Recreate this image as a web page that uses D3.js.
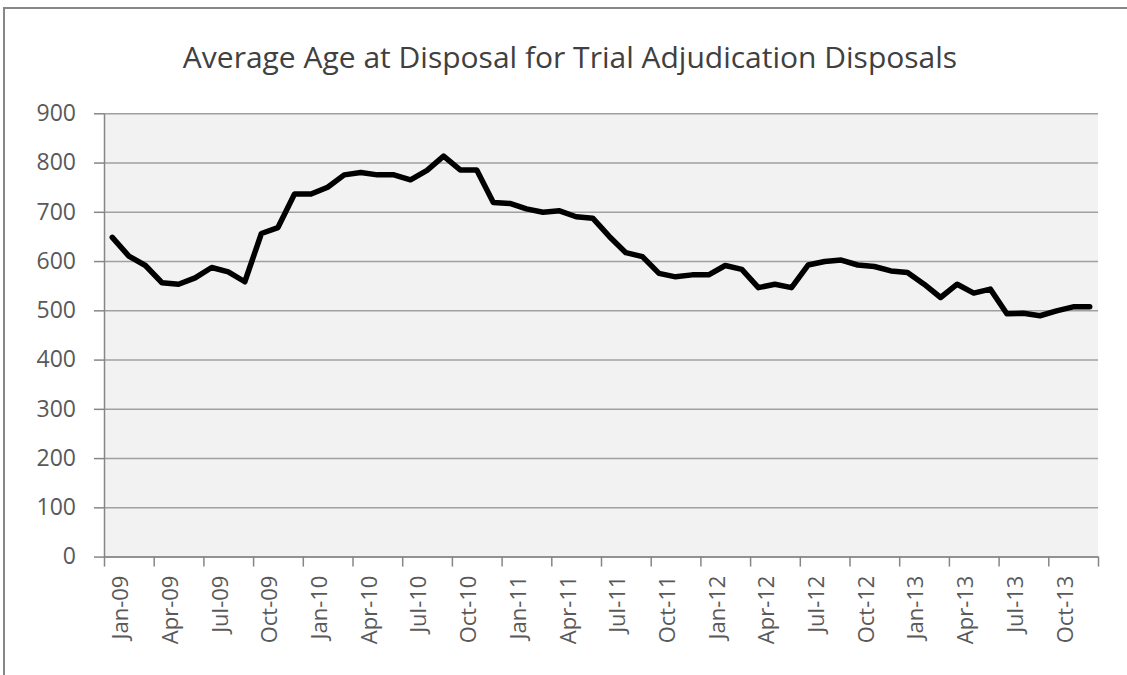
<!DOCTYPE html>
<html>
<head>
<meta charset="utf-8">
<script src="https://cdn.jsdelivr.net/npm/d3@7"></script>
<style>
  body { margin: 0; background: #fff; }
  svg { display: block; font-family: "Open Sans", sans-serif; }
</style>
</head>
<body>
<svg id="chart" width="1127" height="675"></svg>
<script>
// month labels, Jan-09 .. Dec-13
const monthNames = ['Jan', 'Feb', 'Mar', 'Apr', 'May', 'Jun', 'Jul', 'Aug', 'Sep', 'Oct', 'Nov', 'Dec']
const years = ['09', '10', '11', '12', '13']
const months = years.flatMap(y => monthNames.map(m => m + '-' + y))

// average age at disposal (days)
const avgAge = [
  648, 610, 591, 556, 553, 566, 587, 578, 558, 656, 668, 736,
  736, 750, 775, 780, 775, 775, 765, 784, 813, 785, 785, 719,
  717, 706, 699, 702, 690, 687, 650, 617, 609, 575, 568, 572,
  572, 591, 583, 546, 553, 546, 592, 599, 602, 592, 589, 580,
  577, 553, 526, 553, 535, 543, 493, 494, 489, 499, 507, 507
]

const yTicks = [0, 100, 200, 300, 400, 500, 600, 700, 800, 900]
const title = 'Average Age at Disposal for Trial Adjudication Disposals'

const plot = {left: 104, right: 1098, top: 113.3, bottom: 556.6}

const svg = d3.select('#chart')

// outer chart frame
svg.append('rect')
    .attr('x', 4)
    .attr('y', 8)
    .attr('width', 1140)
    .attr('height', 700)
    .attr('fill', '#fff')
    .attr('stroke', '#878787')
    .attr('stroke-width', 2)

svg.append('text')
    .attr('x', 570)
    .attr('y', 68)
    .attr('text-anchor', 'middle')
    .attr('fill', '#404040')
    .style('font-size', '30px')
    .text(title)

const x = d3.scaleBand()
    .domain(months)
    .range([plot.left, plot.right])
    .padding(0)

// index scale so the tick marks can sit on the month edges
const xi = d3.scaleLinear()
    .domain([0, months.length])
    .range([plot.left, plot.right])

const y = d3.scaleLinear()
    .domain([0, 900])
    .range([plot.bottom, plot.top])

svg.append('rect')
    .attr('x', plot.left)
    .attr('y', plot.top)
    .attr('width', plot.right - plot.left)
    .attr('height', plot.bottom - plot.top)
    .attr('fill', '#f2f2f2')

// gridlines
svg.append('g')
    .attr('transform', 'translate(' + plot.left + ',0)')
    .call(d3.axisLeft(y).tickValues(yTicks).tickSize(-(plot.right - plot.left)).tickFormat(''))
    .call(g => g.select('.domain').remove())
    .call(g => g.selectAll('line').attr('stroke', '#a0a0a0').attr('stroke-width', 1.5))

// y axis
svg.append('g')
    .attr('transform', 'translate(' + plot.left + ',0)')
    .call(d3.axisLeft(y).tickValues(yTicks).tickSize(10).tickSizeOuter(0).tickPadding(18))
    .call(g => g.select('.domain').attr('stroke', '#868686').attr('stroke-width', 1.5))
    .call(g => g.selectAll('line').attr('stroke', '#868686').attr('stroke-width', 1.5))
    .call(g => g.selectAll('text')
        .attr('fill', '#595959')
        .style('font-size', '23px')
        .style('font-family', '"Open Sans", sans-serif'))

// x tick marks at quarter boundaries
svg.append('g')
    .attr('transform', 'translate(0,' + plot.bottom + ')')
    .call(d3.axisBottom(xi).tickValues(d3.range(0, months.length + 1, 3)).tickSize(10).tickSizeOuter(0).tickFormat(''))
    .call(g => g.select('.domain').attr('stroke', '#868686').attr('stroke-width', 1.5))
    .call(g => g.selectAll('line').attr('stroke', '#868686').attr('stroke-width', 1.5))

// x labels, centred on the first month of each quarter
svg.append('g')
    .attr('transform', 'translate(' + (x.bandwidth() / 2) + ',' + plot.bottom + ')')
    .call(d3.axisBottom(x).tickValues(months.filter((d, i) => i % 3 === 0)).tickSize(0).tickPadding(0))
    .call(g => g.select('.domain').remove())
    .call(g => g.selectAll('text')
        .attr('transform', 'rotate(-90)')
        .attr('text-anchor', 'end')
        .attr('x', -19)
        .attr('y', 0)
        .attr('dy', '0.35em')
        .attr('fill', '#595959')
        .style('font-size', '22px')
        .style('font-family', '"Open Sans", sans-serif'))

const line = d3.line()
    .x((d, i) => x(months[i]) + x.bandwidth() / 2)
    .y(d => y(d))

svg.append('path')
    .datum(avgAge)
    .attr('d', line)
    .attr('fill', 'none')
    .attr('stroke', '#000')
    .attr('stroke-width', 5.5)
    .attr('stroke-linejoin', 'round')
    .attr('stroke-linecap', 'round')
</script>
</body>
</html>
